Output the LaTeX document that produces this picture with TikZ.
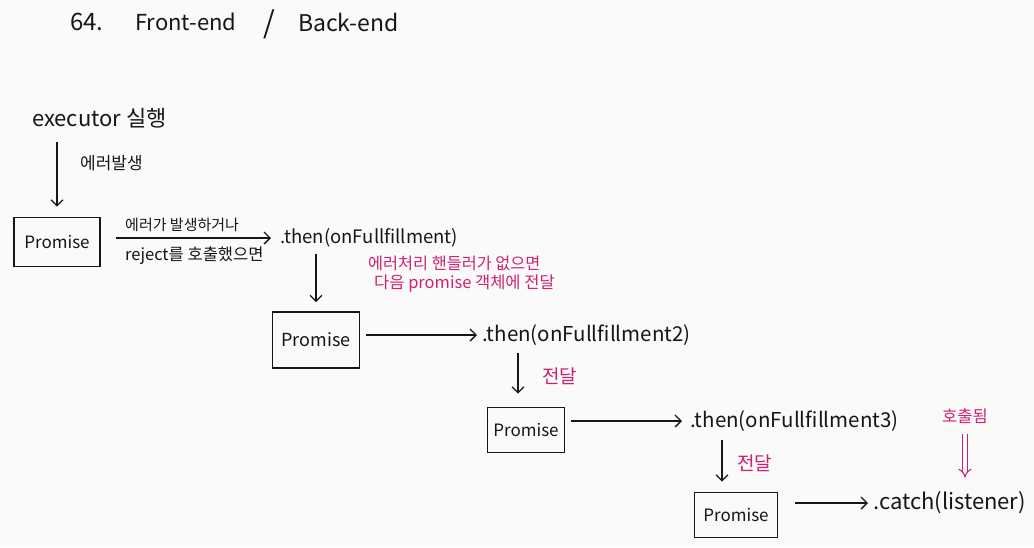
\documentclass[tikz,border=0pt]{standalone}
\usepackage{fontspec}
\setmainfont{Noto Sans CJK KR}
\usetikzlibrary{arrows.meta}
\definecolor{ink}{RGB}{22,22,22}
\definecolor{mg}{RGB}{208,32,118}
\definecolor{paper}{RGB}{250,250,248}
\newcommand{\fs}[1]{\fontsize{#1}{#1}\selectfont}
\begin{document}
\begin{tikzpicture}[x=1pt,y=-1pt,
  ttl/.style={font=\fs{22}, text=ink, inner sep=0pt, anchor=west},
  lbl/.style={font=\fs{18.5}, text=ink, inner sep=0pt, anchor=west},
  kor/.style={font=\fs{15}, text=ink, inner sep=0pt, anchor=west},
  note/.style={kor, text=mg},
  pbox/.style={draw=ink, line width=1.6pt, inner sep=0pt, font=\fs{17}, text=ink},
  conn/.style={draw=ink, line width=1.3pt, -{Straight Barb[length=6pt,width=12pt]}},
  dbl/.style={draw=mg, line width=1.1pt, double, double distance=3.5pt, -{Implies}},
]
\fill[paper] (0,0) rectangle (1034,547);
\useasboundingbox (0,0) rectangle (1034,547);

% title
\node[ttl, font=\fs{24}] (t1) at (70,22) {64.};
\node[ttl] (t2) at (135,22) {Front-end};
\node[ttl, font=\fs{30}] (t3) at (263,24) {/};
\node[ttl, font=\fs{23}] (t4) at (298,22) {Back-end};

% executor
\node[lbl, font=\fs{22}] (exec) at (32,118) {executor 실행};
\node[kor, font=\fs{17}] (err) at (80,163) {에러발생};

% promise boxes
\node[pbox, minimum width=86pt, minimum height=49pt] (p1) at (57,242) {Promise};
\node[pbox, minimum width=87pt, minimum height=56pt, font=\fs{18}] (p2) at (316,340) {Promise};
\node[pbox, minimum width=77pt, minimum height=45pt] (p3) at (526,430) {Promise};
\node[pbox, minimum width=83pt, minimum height=45pt] (p4) at (736,515) {Promise};

% labels
\node[kor] (a1) at (125,225) {에러가 발생하거나};
\node[kor, font=\fs{16.5}] (a2) at (125,256) {reject를 호출했으면};
\node[lbl] (th1) at (280,238) {.then(onFullfillment)};
\node[note, font=\fs{16.3}] (n1) at (368,263) {에러처리 핸들러가 없으면};
\node[note, font=\fs{16.5}] (n2) at (374,284) {다음 promise 객체에 전달};
\node[lbl, font=\fs{20.5}] (th2) at (482,335) {.then(onFullfillment2)};
\node[note, font=\fs{19}] (d1) at (542,376) {전달};
\node[lbl, font=\fs{20.5}] (th3) at (690,421) {.then(onFullfillment3)};
\node[note, font=\fs{19}] (d2) at (737,463) {전달};
\node[lbl, font=\fs{22}] (ct) at (873,503) {.catch(listener)};
\node[note, font=\fs{16.5}] (call) at (942,416) {호출됨};

% connectors
\draw[conn, shorten <=14pt, shorten >=10pt] (exec.south -| p1.north) -- (p1.north);
\draw[conn, shorten <=15pt, shorten >=9pt] (p1.east |- th1.west) -- (th1.west);
\draw[conn, shorten <=6pt, shorten >=9pt] (th1.south -| p2.north) -- (p2.north);
\draw[conn, shorten <=6pt, shorten >=5pt] (p2.east |- th2.west) -- (th2.west);
\draw[conn, shorten <=7pt, shorten >=13pt] (th2.south -| 518,0) -- (p3.north -| 518,0);
\draw[conn, shorten <=6pt, shorten >=8pt] (p3.east |- th3.west) -- (th3.west);
\draw[conn, shorten <=8pt, shorten >=10pt] (th3.south -| 722,0) -- (p4.north -| 722,0);
\draw[conn, shorten <=17pt, shorten >=5pt] (p4.east |- ct.west) -- (ct.west);
\draw[dbl, shorten <=10pt, shorten >=14pt] (call.south) -- (call.south |- ct.north);
\end{tikzpicture}
\end{document}
